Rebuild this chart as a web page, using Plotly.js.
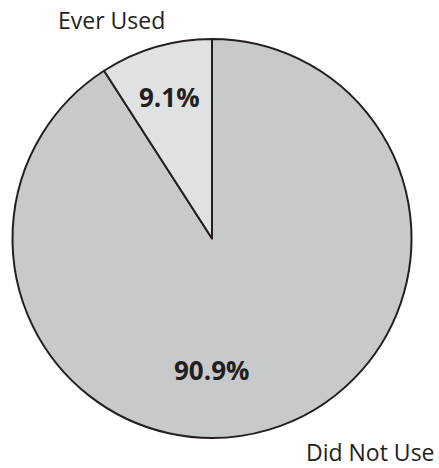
<!DOCTYPE html>
<html>
<head>
<meta charset="utf-8">
<script src="https://cdn.plot.ly/plotly-3.0.1.min.js"></script>
<style>html,body{margin:0;padding:0;background:#fff;}#chart{width:439px;height:468px;}</style>
</head>
<body>
<div id="chart"></div>
<script>
var labels = ["Did Not Use", "Ever Used"];
var values = [90.9, 9.1];
var colors = ["#c8c9cb", "#e0e1e3"];

var trace = {
  type: "pie",
  labels: labels,
  values: values,
  sort: false,
  direction: "clockwise",
  rotation: 0,
  marker: {colors: colors, line: {color: "#231f20", width: 2}},
  textinfo: "none",
  hoverinfo: "none",
  showlegend: false
};

var pctFont = {family: "Open Sans, sans-serif", size: 26, color: "#231f20"};
var lblFont = {family: "Open Sans, sans-serif", size: 23, color: "#231f20"};

var layout = {
  width: 439,
  height: 468,
  margin: {l: 12, r: 27, t: 39, b: 30},
  paper_bgcolor: "#ffffff",
  showlegend: false,
  annotations: [
    {text: "<b>" + values[1].toFixed(1) + "%</b>", xref: "paper", yref: "paper", x: 0.3925, y: 0.855, xanchor: "center", yanchor: "middle", showarrow: false, font: pctFont},
    {text: "<b>" + values[0].toFixed(1) + "%</b>", xref: "paper", yref: "paper", x: 0.4975, y: 0.170, xanchor: "center", yanchor: "middle", showarrow: false, font: pctFont},
    {text: labels[1], xref: "paper", yref: "paper", x: 0.2475, y: 1.0476, xanchor: "center", yanchor: "middle", showarrow: false, font: lblFont},
    {text: labels[0], xref: "paper", yref: "paper", x: 1.0625, y: -0.035, xanchor: "right", yanchor: "middle", showarrow: false, font: lblFont}
  ]
};

Plotly.newPlot("chart", [trace], layout, {displayModeBar: false, staticPlot: true});
</script>
</body>
</html>
